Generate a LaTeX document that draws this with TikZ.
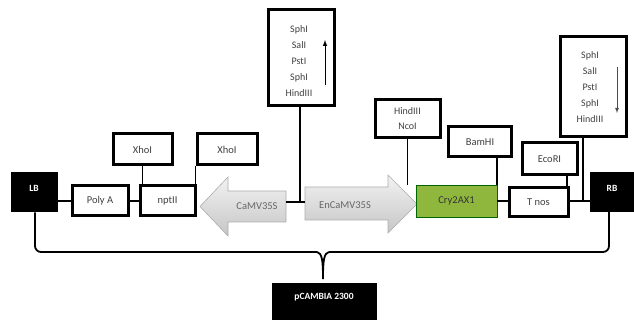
\documentclass[tikz,border=0pt]{standalone}
\usepackage{fontspec}
\setmainfont{Carlito}
\begin{document}
\begin{tikzpicture}[x=1pt,y=-1pt,
  every node/.style={font=\fontsize{10}{12}\selectfont},
  gbox/.style={draw=black, line width=3pt, fill=white, inner sep=0pt},
  bbox/.style={draw=black, line width=1pt, fill=black, text=white, inner sep=0pt},
  conn/.style={line width=1.8pt, draw=black},
  garrow/.style={draw=gray!65, line width=0.6pt, top color=gray!10, bottom color=gray!45},
  lbl/.style={inner sep=0pt, text=black!75, font=\fontsize{10.5}{12}\selectfont},
  sitelist/.style={inner sep=0pt, align=center, text=black!75, font=\fontsize{10}{16}\selectfont}
]
\useasboundingbox (0,0) rectangle (634,320);

% main row
\node[bbox, minimum width=46pt, minimum height=39pt] (lb) at (34,192.5) {};
\node[inner sep=0pt, text=white, font=\bfseries\fontsize{9.5}{10}\selectfont] (lbt) at (34,188) {LB};
\node[gbox, minimum width=56pt, minimum height=30pt] (polya) at (100,201) {};
\node[lbl] (polyat) at (polya.center) {Poly A};
\node[gbox, minimum width=55pt, minimum height=30pt] (nptii) at (167.5,201) {};
\node[lbl] (nptiit) at (nptii.center) {nptII};

% CaMV35S arrow (left)
\draw[garrow] (200,206.5) -- (228,177) -- (228,191) -- (286,191) -- (286,222) -- (228,222) -- (228,236) -- cycle;
\node[lbl, text=black!60] (camv) at (257,206) {CaMV35S};
\coordinate (camvtail) at (286,202);
% EnCaMV35S arrow (right)
\draw[garrow] (305,187) -- (388,187) -- (388,175) -- (417,204) -- (388,233) -- (388,220) -- (305,220) -- cycle;
\node[lbl, text=black!60] (encamv) at (345,205) {EnCaMV35S};
\coordinate (encamvtail) at (305,202);

\node[draw=green!40!black, line width=0.4pt, fill={rgb,255:red,143;green,183;blue,62}, minimum width=81pt, minimum height=32pt, inner sep=0pt] (cry) at (456.5,201) {};
\node[lbl, text=black!80] (cryt) at (cry.center) {Cry2AX1};
\node[gbox, minimum width=59pt, minimum height=29pt] (tnos) at (538.5,202.5) {};
\node[lbl] (tnost) at (tnos.center) {T nos};
\node[bbox, minimum width=48pt, minimum height=39pt] (rb) at (614,192.5) {};
\node[inner sep=0pt, text=white, font=\bfseries\fontsize{9.5}{10}\selectfont] (rbt) at (612,188) {RB};

% upper boxes
\node[gbox, minimum width=59pt, minimum height=31pt] (xho1) at (142.5,149.5) {};
\node[lbl] (xho1t) at (xho1.center) {XhoI};
\node[gbox, minimum width=60pt, minimum height=31pt] (xho2) at (227,149.5) {};
\node[lbl] (xho2t) at (xho2.center) {XhoI};

\node[gbox, minimum width=66pt, minimum height=96pt] (sph1) at (301,57.5) {};
\node[sitelist] (sph1t) at (299,61) {SphI\\SalI\\PstI\\SphI\\HindIII};
\draw[-latex, line width=1pt] (325,85) -- (325,40);

\node[gbox, minimum width=65pt, minimum height=38pt] (hn) at (407.5,119) {};
\node[sitelist, font=\fontsize{10}{15}\selectfont] (hnt) at (hn.center) {HindIII\\NcoI};
\node[gbox, minimum width=63pt, minimum height=30pt] (bam) at (480,142) {};
\node[lbl] (bamt) at (bam.center) {BamHI};
\node[gbox, minimum width=55pt, minimum height=32pt] (eco) at (549.5,159) {};
\node[lbl] (ecot) at (eco.center) {EcoRI};
\node[gbox, minimum width=66pt, minimum height=100pt] (sph2) at (593,87) {};
\node[sitelist] (sph2t) at (590,87) {SphI\\SalI\\PstI\\SphI\\HindIII};
\draw[-latex, line width=0.8pt, draw=black!70] (617,67) -- (617,113);

\node[bbox, minimum width=104pt, minimum height=40pt] (pc) at (324,303) {};
\node[inner sep=0pt, text=white, font=\bfseries\fontsize{9.5}{10}\selectfont] (pct) at (324,297) {pCAMBIA 2300};

% connectors
\draw[conn] (lb.east |- polya.west) -- (polya.west);
\draw[conn] (polya.east) -- (nptii.west);
\draw[conn] (xho1.south) -- (xho1.south |- nptii.north);
\draw[conn] (xho2.south west) -- (xho2.south west |- nptii.north);
\draw[conn] (camvtail) -- (encamvtail);
\draw[conn] (sph1.south -| 300,0) -- (300,202);
\draw[conn] (hn.south) -- (hn.south |- cry.north);
\draw[conn] (cry.north east |- bam.south) -- (cry.north east);
\draw[conn] (cry.east) -- (tnos.west |- cry.east);
\draw[conn] (tnos.east |- cry.east) -- (rb.west |- cry.east);
\draw[conn] (eco.south -| 567,0) -- (tnos.north -| 567,0);
\draw[conn] (sph2.south -| 583,0) -- (583,202);

% brace
\draw[conn, rounded corners=6pt] (lb.south -| 35,0) -- (35,252) -- (317,252);
\draw[conn] (317,252) .. controls (322,253) and (323,260) .. (323,279);
\draw[conn] (329,252) .. controls (324,253) and (323,260) .. (323,279);
\draw[conn, rounded corners=6pt] (329,252) -- (609,252) -- (609,212);
\end{tikzpicture}
\end{document}
